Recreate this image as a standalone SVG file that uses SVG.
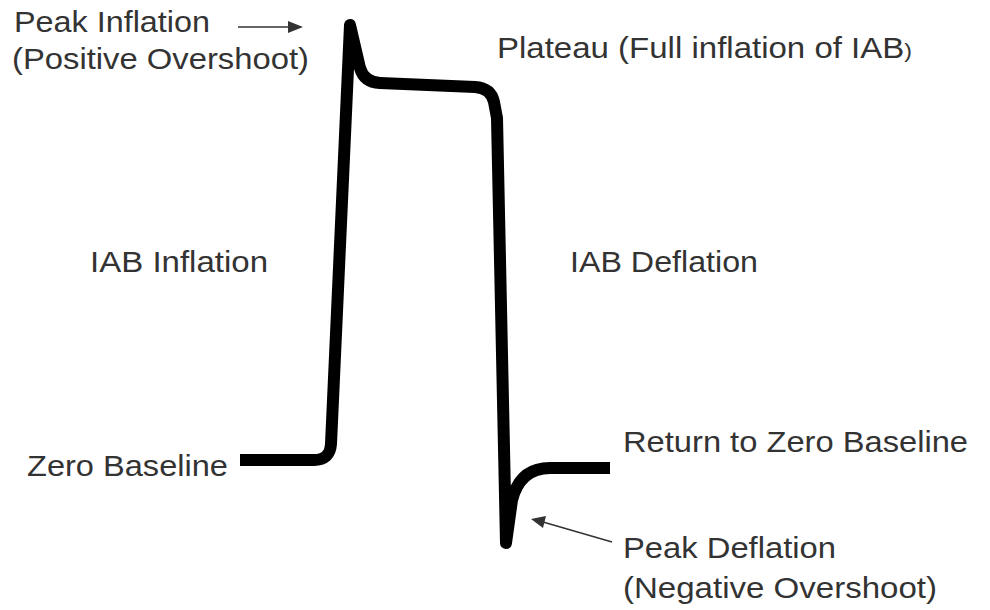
<svg xmlns="http://www.w3.org/2000/svg" width="990" height="610" viewBox="0 0 990 610">
<style>
.t{font-family:"Liberation Sans",Arial,sans-serif;font-size:30px;fill:#333}
.wave{fill:none;stroke:#000;stroke-width:12;stroke-linejoin:round;stroke-linecap:butt}
.ptr{stroke:#333;stroke-width:1.5;fill:none}
.head{fill:#333}
</style>
<rect width="990" height="610" fill="#fff"/>
<g id="waveform">
<path class="wave" d="M240,460 L314,460 Q330,460 331,444 L350,25 L360,68 Q364,82 380,83 L475,87 Q491,88 494,102 L497,118 L506,543 L512,500 Q520,468 550,468 L610,468"/>
</g>
<g id="connectors">
<line class="ptr" x1="238" y1="27" x2="290" y2="27"/>
<polygon class="head" points="303,27 288,21 288,33"/>
<line class="ptr" x1="612" y1="542" x2="543" y2="522"/>
<polygon class="head" points="531,519 546,516 543,528"/>
</g>
<g id="peak-inflation">
<text class="t" x="14" y="32" textLength="196" lengthAdjust="spacingAndGlyphs">Peak Inflation</text>
<text class="t" x="12" y="69" textLength="297" lengthAdjust="spacingAndGlyphs">(Positive Overshoot)</text>
</g>
<g id="plateau">
<text class="t" x="497" y="58" textLength="415" lengthAdjust="spacingAndGlyphs">Plateau (Full inflation of IAB<tspan font-size="21">)</tspan></text>
</g>
<g id="iab-inflation">
<text class="t" x="90" y="272" textLength="178" lengthAdjust="spacingAndGlyphs">IAB Inflation</text>
</g>
<g id="iab-deflation">
<text class="t" x="570" y="272" textLength="188" lengthAdjust="spacingAndGlyphs">IAB Deflation</text>
</g>
<g id="zero-baseline">
<text class="t" x="27" y="476" textLength="201" lengthAdjust="spacingAndGlyphs">Zero Baseline</text>
</g>
<g id="return-baseline">
<text class="t" x="623" y="452" textLength="345" lengthAdjust="spacingAndGlyphs">Return to Zero Baseline</text>
</g>
<g id="peak-deflation">
<text class="t" x="623" y="558" textLength="213" lengthAdjust="spacingAndGlyphs">Peak Deflation</text>
<text class="t" x="623" y="598" textLength="314" lengthAdjust="spacingAndGlyphs">(Negative Overshoot)</text>
</g>
</svg>
